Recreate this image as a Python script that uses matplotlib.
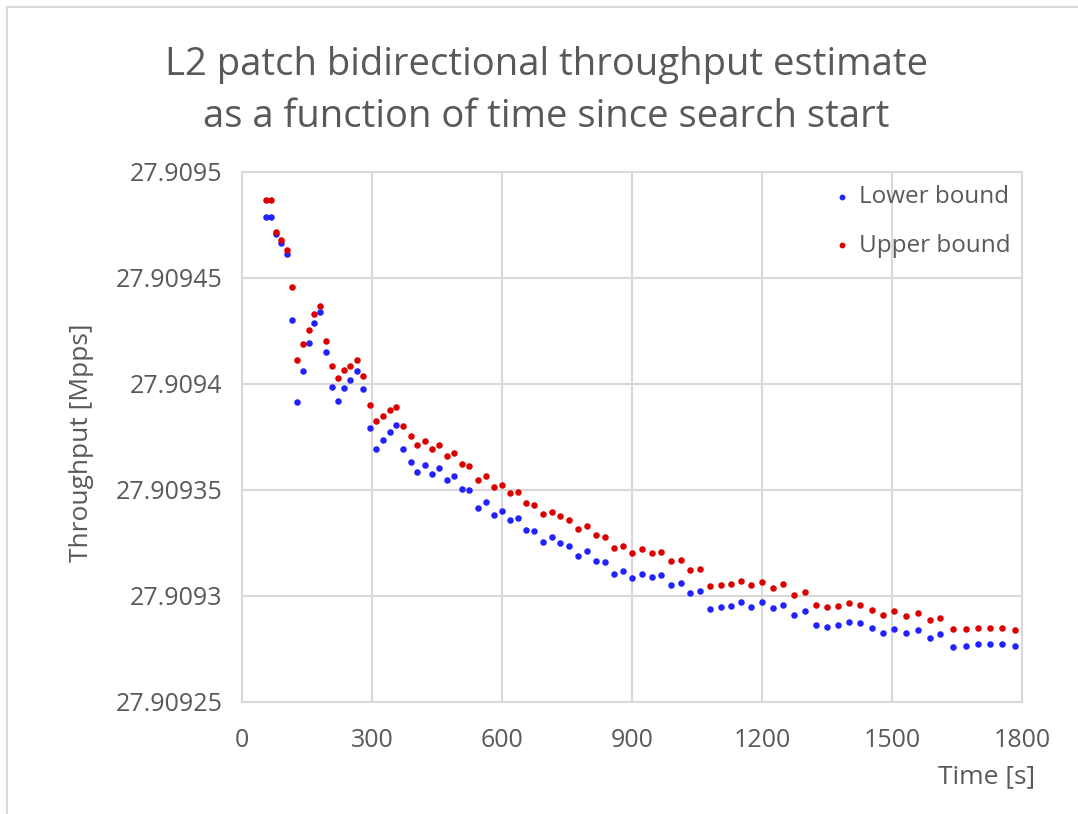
import matplotlib.pyplot as plt
from matplotlib.lines import Line2D
from matplotlib.ticker import FuncFormatter, MultipleLocator

# time since search start [s]
time_s = [55, 68, 79, 91, 103, 115, 128, 141, 154, 167,
          180, 194, 208, 222, 236, 250, 265, 280, 295, 310,
          325, 341, 356, 372, 389, 405, 422, 439, 455, 473,
          490, 508, 525, 544, 562, 581, 599, 618, 636, 655,
          675, 695, 715, 735, 755, 775, 796, 817, 838, 859,
          880, 901, 924, 946, 968, 990, 1012, 1035, 1058, 1081,
          1105, 1128, 1152, 1174, 1201, 1225, 1249, 1274, 1299, 1325,
          1350, 1375, 1401, 1427, 1453, 1480, 1505, 1532, 1561, 1588,
          1611, 1641, 1671, 1698, 1726, 1755, 1784]

lower_bound = [27.9094790, 27.9094790, 27.9094708, 27.9094664, 27.9094615,
               27.9094300, 27.9093917, 27.9094063, 27.9094192, 27.9094290,
               27.9094341, 27.9094152, 27.9093988, 27.9093922, 27.9093983,
               27.9094021, 27.9094060, 27.9093975, 27.9093794, 27.9093693,
               27.9093736, 27.9093775, 27.9093808, 27.9093693, 27.9093633,
               27.9093587, 27.9093619, 27.9093577, 27.9093606, 27.9093545,
               27.9093566, 27.9093504, 27.9093500, 27.9093416, 27.9093444,
               27.9093380, 27.9093403, 27.9093359, 27.9093370, 27.9093309,
               27.9093306, 27.9093255, 27.9093276, 27.9093252, 27.9093238,
               27.9093191, 27.9093213, 27.9093165, 27.9093159, 27.9093103,
               27.9093118, 27.9093085, 27.9093105, 27.9093090, 27.9093101,
               27.9093052, 27.9093060, 27.9093013, 27.9093022, 27.9092939,
               27.9092948, 27.9092953, 27.9092972, 27.9092950, 27.9092972,
               27.9092942, 27.9092959, 27.9092912, 27.9092929, 27.9092861,
               27.9092855, 27.9092861, 27.9092879, 27.9092872, 27.9092850,
               27.9092827, 27.9092843, 27.9092824, 27.9092839, 27.9092802,
               27.9092819, 27.9092760, 27.9092765, 27.9092773, 27.9092775,
               27.9092775, 27.9092765]

upper_bound = [27.9094867, 27.9094867, 27.9094717, 27.9094678, 27.9094630,
               27.9094459, 27.9094111, 27.9094191, 27.9094256, 27.9094329,
               27.9094369, 27.9094202, 27.9094084, 27.9094027, 27.9094065,
               27.9094087, 27.9094112, 27.9094038, 27.9093903, 27.9093824,
               27.9093851, 27.9093876, 27.9093893, 27.9093803, 27.9093753,
               27.9093714, 27.9093733, 27.9093695, 27.9093714, 27.9093662,
               27.9093673, 27.9093624, 27.9093614, 27.9093547, 27.9093564,
               27.9093512, 27.9093525, 27.9093487, 27.9093490, 27.9093440,
               27.9093431, 27.9093388, 27.9093398, 27.9093375, 27.9093358,
               27.9093318, 27.9093332, 27.9093287, 27.9093280, 27.9093228,
               27.9093236, 27.9093205, 27.9093221, 27.9093205, 27.9093209,
               27.9093164, 27.9093169, 27.9093124, 27.9093129, 27.9093047,
               27.9093052, 27.9093057, 27.9093072, 27.9093050, 27.9093068,
               27.9093039, 27.9093055, 27.9093006, 27.9093020, 27.9092956,
               27.9092947, 27.9092951, 27.9092965, 27.9092959, 27.9092935,
               27.9092912, 27.9092928, 27.9092904, 27.9092920, 27.9092885,
               27.9092897, 27.9092843, 27.9092844, 27.9092850, 27.9092850,
               27.9092850, 27.9092841]

plt.rcParams['font.family'] = ['Open Sans', 'DejaVu Sans']
text_col = '#595959'
grid_col = '#d9d9d9'

fig = plt.figure(figsize=(10.78, 8.14), dpi=100)
ax = fig.add_axes([0.2245, 0.1376, 0.7235, 0.6511])

ax.scatter(time_s, lower_bound, s=22, color='#2222ff', label='Lower bound', zorder=3, linewidths=0)
ax.scatter(time_s, upper_bound, s=22, color='#dd0000', label='Upper bound', zorder=4, linewidths=0)

ax.set_xlim(0, 1800)
ax.set_ylim(27.90925, 27.9095)
ax.xaxis.set_major_locator(MultipleLocator(300))
ax.yaxis.set_major_locator(MultipleLocator(0.00005))
ax.yaxis.set_major_formatter(FuncFormatter(lambda v, p: f'{v:.5f}'.rstrip('0')))
ax.grid(True, color=grid_col, linewidth=1.5)
ax.set_axisbelow(True)
for sp in ax.spines.values():
    sp.set_color(grid_col)
    sp.set_linewidth(1.5)
ax.tick_params(length=0, labelsize=18, labelcolor=text_col)
ax.tick_params(axis='x', pad=19)
ax.tick_params(axis='y', pad=14)

ax.set_ylabel('Throughput [Mpps]', fontsize=19, color=text_col)
ax.yaxis.set_label_coords(-0.19, 0.49)
ax.set_xlabel('Time [s]', fontsize=19, color=text_col, loc='right')
ax.xaxis.set_label_coords(1.0167, -0.117)

fig.text(0.507, 0.9075, 'L2 patch bidirectional throughput estimate',
         fontsize=27.5, color=text_col, ha='center', va='baseline')
fig.text(0.507, 0.8435, 'as a function of time since search start',
         fontsize=27.5, color=text_col, ha='center', va='baseline')

ax.legend(loc='upper right', bbox_to_anchor=(0.985, 0.975), frameon=False, fontsize=17.5,
          labelcolor=text_col, handlelength=1.0, handletextpad=0.2, labelspacing=1.0,
          borderaxespad=0, borderpad=0, markerscale=0.9)

# chart area border (only the top and left edges fall inside the picture)
fig.add_artist(Line2D([7 / 1078, 1.0], [1 - 7 / 814, 1 - 7 / 814], transform=fig.transFigure,
                      color=grid_col, linewidth=1.5))
fig.add_artist(Line2D([7 / 1078, 7 / 1078], [0.0, 1 - 7 / 814], transform=fig.transFigure,
                      color=grid_col, linewidth=1.5))

fig.savefig('out.png', dpi=100)
